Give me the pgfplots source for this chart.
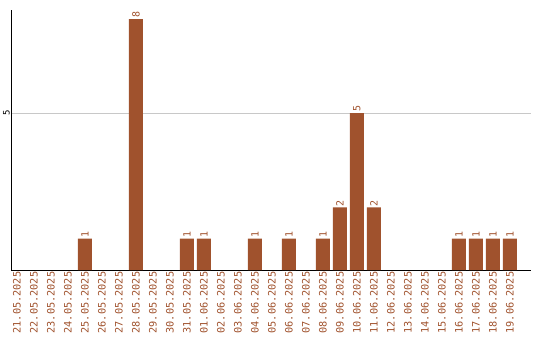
\documentclass[border=0pt]{standalone}
\usepackage{pgfplots}
\pgfplotsset{compat=1.18}
\usepackage{fontspec}
\newfontfamily\lab{DejaVu Sans Mono}
\definecolor{barc}{HTML}{A0522D}
\definecolor{gridc}{HTML}{C8C8C8}
\begin{document}
\begin{tikzpicture}
\begin{axis}[
  scale only axis, width=520bp, height=260bp,
  xmin=-0.35, xmax=30.24, ymin=0, ymax=8.29,
  axis x line*=bottom, axis y line*=left,
  axis line style={black, line width=0.8pt},
  xtick={0,...,29},
  xticklabels={21.05.2025,22.05.2025,23.05.2025,24.05.2025,25.05.2025,26.05.2025,27.05.2025,28.05.2025,29.05.2025,30.05.2025,31.05.2025,01.06.2025,02.06.2025,03.06.2025,04.06.2025,05.06.2025,06.06.2025,07.06.2025,08.06.2025,09.06.2025,10.06.2025,11.06.2025,12.06.2025,13.06.2025,14.06.2025,15.06.2025,16.06.2025,17.06.2025,18.06.2025,19.06.2025},
  xticklabel style={rotate=90, anchor=east, font=\lab\fontsize{10.3}{11}\selectfont, text=barc, inner sep=1.5pt},
  ytick={5},
  yticklabel style={rotate=90, anchor=south, font=\lab\fontsize{9}{10}\selectfont, text=black, inner sep=1pt},
  /pgf/number format/assume math mode=true,
  major tick length=0pt,
  ymajorgrids, grid style={gridc, line width=0.7pt},
  ybar, bar width=0.82,
  nodes near coords,
  every node near coord/.append style={rotate=90, anchor=west, font=\lab\fontsize{10}{11}\selectfont, text=barc, inner sep=1pt},
]
\addplot[fill=barc, draw=none] coordinates {
(4,1) (7,8) (10,1) (11,1) (14,1) (16,1) (18,1) (19,2) (20,5) (21,2) (26,1) (27,1) (28,1) (29,1)
};
\end{axis}
\pgfresetboundingbox
\path ([xshift=-11bp,yshift=-70bp]current axis.south west) rectangle ([xshift=9bp,yshift=10bp]current axis.north east);
\end{tikzpicture}
\end{document}
